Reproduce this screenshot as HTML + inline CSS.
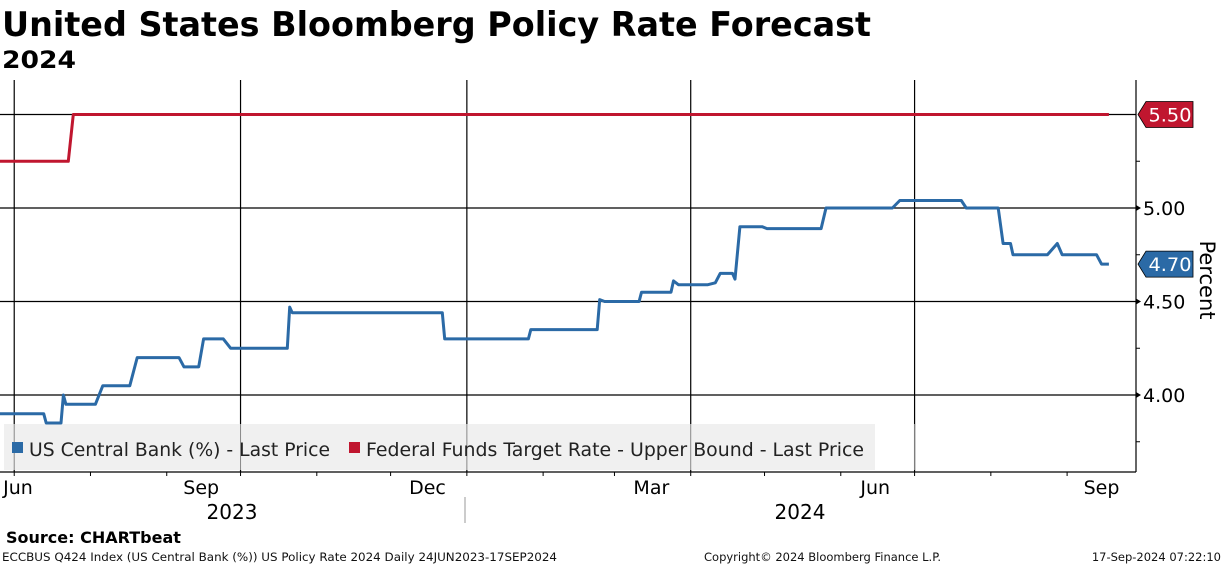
<!DOCTYPE html>
<html><head><meta charset="utf-8"><style>
body{margin:0;width:1224px;height:566px;background:#fff;overflow:hidden;font-family:"DejaVu Sans","Liberation Sans",sans-serif;}
svg{display:block}
</style></head><body>
<svg id="chart" width="1224" height="566">
<text x="2" y="36" font-size="34" font-weight="bold" fill="#000" textLength="869" lengthAdjust="spacingAndGlyphs">United States Bloomberg Policy Rate Forecast</text>
<text x="2" y="68" font-size="24" font-weight="bold" fill="#000" textLength="74" lengthAdjust="spacingAndGlyphs">2024</text>
<g id="grid"></g>
<rect x="4" y="424" width="871" height="46" fill="#f0f0f0"/>
<g id="vgrid-legend"></g>
<rect x="12" y="442" width="11" height="11" fill="#2b6aa6"/>
<text x="29" y="456" font-size="19" fill="#222" textLength="301" lengthAdjust="spacingAndGlyphs">US Central Bank (%) - Last Price</text>
<rect x="349" y="442" width="11" height="11" fill="#c0162f"/>
<text x="366" y="456" font-size="19" fill="#222" textLength="498" lengthAdjust="spacingAndGlyphs">Federal Funds Target Rate - Upper Bound - Last Price</text>
<g id="series"></g>
<g id="axes"></g>
<text x="1200" y="280" font-size="21" fill="#000" transform="rotate(90 1200 280)" text-anchor="middle">Percent</text>
<text x="232" y="519" font-size="20" text-anchor="middle">2023</text>
<text x="800" y="519" font-size="20" text-anchor="middle">2024</text>
<line x1="465" y1="497" x2="465" y2="523" stroke="#999"/>
<text x="6" y="543" font-size="16" font-weight="bold">Source: CHARTbeat</text>
<text x="2" y="561" font-size="11.5" fill="#111" textLength="555" lengthAdjust="spacingAndGlyphs">ECCBUS Q424 Index (US Central Bank (%)) US Policy Rate 2024  Daily 24JUN2023-17SEP2024</text>
<text x="704" y="561" font-size="11.5" fill="#111">Copyright© 2024 Bloomberg Finance L.P.</text>
<text x="1221" y="561" font-size="11.5" fill="#111" text-anchor="end">17-Sep-2024 07:22:10</text>
</svg>
<script>
// days since 2023-06-24
const usDays=[1,19,20,26,27,28,40,43,54,57,74,76,82,84,92,95,118,119,120,181,182,216,217,244,245,247,261,262,274,275,277,289,292,294,299,300,302,311,313,335,337,364,367,392,394,407,409,412,413,427,431,433,447,449,452];
const usVals=[3.90,3.90,3.85,3.85,4.00,3.95,3.95,4.05,4.05,4.20,4.20,4.15,4.15,4.30,4.30,4.25,4.25,4.47,4.44,4.44,4.30,4.30,4.35,4.35,4.51,4.50,4.50,4.55,4.55,4.61,4.59,4.59,4.60,4.65,4.65,4.62,4.90,4.90,4.89,4.89,5.00,5.00,5.04,5.04,5.00,5.00,4.81,4.81,4.75,4.75,4.81,4.75,4.75,4.70,4.70];
const fedDays=[0,29,31,452];
const fedVals=[5.25,5.25,5.50,5.50];
const yTicks=[4.00,4.50,5.00];
const yMinor=[3.75,4.25,4.75,5.25];
const gridDays=[7,99,191,282,373]; // Jul1, Oct1, Jan1, Apr1, Jul1
const monthDays=[7,38,69,99,130,160,191,222,251,282,312,343,373,404,435];
const xLabels=["Jun","Sep","Dec","Mar","Jun","Sep"];
const xLabelDays=[-7,83,175,266,357,449];
const lastUS=4.70, lastFed=5.50;

const NS="http://www.w3.org/2000/svg";
const X=d=>-3+d*2.46;
const Y=v=>208-(v-5)*187;
function mk(tag,attrs,parent){const e=document.createElementNS(NS,tag);for(const k in attrs)e.setAttribute(k,attrs[k]);document.getElementById(parent).appendChild(e);return e;}
yTicks.concat([5.5]).forEach(v=>{
 const l=mk('line',{x1:0,x2:1136,y1:Y(v),y2:Y(v),stroke:'#000','stroke-width':1.2},'grid');
 
 
});
gridDays.forEach(d=>{
 const l=mk('line',{x1:X(d),x2:X(d),y1:80,y2:472,stroke:'#000','stroke-width':1.2},'grid');
 
 
 const l2=mk('line',{x1:X(d),x2:X(d),y1:424,y2:470,stroke:'#888','stroke-width':1},'vgrid-legend');
 
 
});
function path(days,vals,color,name){
 const p=mk('path',{d:days.map((d,i)=>(i?'L':'M')+X(d).toFixed(1)+','+Y(vals[i]).toFixed(1)).join(''),fill:'none',stroke:color,'stroke-width':3,'stroke-linejoin':'round'},'series');
 
 
}
path(fedDays,fedVals,'#c0162f','fed-funds-line');
path(usDays,usVals,'#2b6aa6','us-central-bank-line');
let a=mk('line',{x1:1136,x2:1136,y1:80,y2:472,stroke:'#000','stroke-width':1.2},'axes');


a=mk('line',{x1:0,x2:1136,y1:472,y2:472,stroke:'#000','stroke-width':1.2},'axes');


yTicks.forEach(v=>{
 const t=mk('text',{x:1143,y:Y(v)+7,'font-size':19},'axes');t.textContent=v.toFixed(2);
 
 
 const m=mk('path',{d:`M1136,${Y(v)-3}L1141,${Y(v)}L1136,${Y(v)+3}Z`,fill:'#000'},'axes');
 
 
});
yMinor.forEach(v=>{
 const m=mk('line',{x1:1136,x2:1140,y1:Y(v),y2:Y(v),stroke:'#000'},'axes');
 
 
});
monthDays.forEach(d=>{
 const m=mk('line',{x1:X(d),x2:X(d),y1:472,y2:476,stroke:'#000'},'axes');
 
 
});
xLabels.forEach((s,i)=>{
 const t=mk('text',{x:Math.max(18,X(xLabelDays[i])),y:494,'font-size':19,'text-anchor':'middle'},'axes');t.textContent=s;
 
 
});
function badge(v,color,name){
 const y=Y(v);
 const b=mk('path',{d:`M1138,${y}L1146,${y-13}L1193,${y-13}L1193,${y+13}L1146,${y+13}Z`,fill:color,stroke:'#000','stroke-width':0.8},'axes');
 
 
 const t=mk('text',{x:1170,y:y+7,'font-size':19,fill:'#fff','text-anchor':'middle',textLength:43,lengthAdjust:'spacingAndGlyphs'},'axes');t.textContent=v.toFixed(2);
 
 
}
badge(lastFed,'#c0162f','fed-funds-last');
badge(lastUS,'#2b6aa6','us-central-bank-last');
</script>
</body></html>
